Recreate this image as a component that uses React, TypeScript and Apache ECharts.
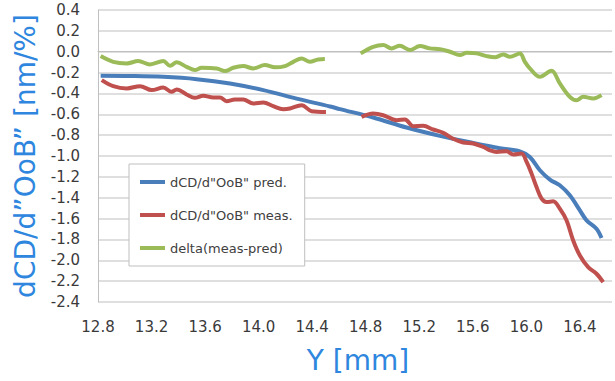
import React, { useEffect, useRef } from "react";
import * as echarts from "echarts";

const xTicks = [12.8, 13.2, 13.6, 14.0, 14.4, 14.8, 15.2, 15.6, 16.0, 16.4];
const yTicks = [0.4, 0.2, 0.0, -0.2, -0.4, -0.6, -0.8, -1.0, -1.2, -1.4, -1.6, -1.8, -2.0, -2.2, -2.4];

const seriesNames = ['dCD/d"OoB" pred.', 'dCD/d"OoB" meas.', "delta(meas-pred)"];

const xPred = [12.82, 13.039, 13.288, 13.537, 13.786, 14.035, 14.284, 14.533, 14.607, 14.856, 15.105, 15.354, 15.603, 15.802, 15.952, 16.026, 16.101, 16.176, 16.25, 16.325, 16.4, 16.45, 16.524, 16.562];
const yPred = [-0.231, -0.233, -0.241, -0.263, -0.304, -0.368, -0.45, -0.525, -0.55, -0.631, -0.727, -0.807, -0.875, -0.925, -0.955, -1.009, -1.137, -1.226, -1.281, -1.377, -1.521, -1.617, -1.697, -1.787];

const xMeas = [12.828, 12.914, 13.014, 13.114, 13.201, 13.288, 13.35, 13.388, 13.462, 13.524, 13.586, 13.661, 13.711, 13.761, 13.823, 13.885, 13.96, 14.035, 14.109, 14.184, 14.234, 14.321, 14.396, 14.503,
  14.63,
  14.769, 14.856, 14.931, 15.031, 15.093, 15.155, 15.229, 15.304, 15.379, 15.453, 15.528, 15.603, 15.678, 15.728, 15.778, 15.852, 15.902, 15.964, 16.002, 16.039, 16.076, 16.114, 16.151, 16.2, 16.25, 16.3, 16.35, 16.4, 16.462, 16.524, 16.574];
const yMeas = [-0.272, -0.33, -0.352, -0.33, -0.368, -0.343, -0.385, -0.362, -0.41, -0.442, -0.423, -0.439, -0.439, -0.474, -0.458, -0.458, -0.496, -0.487, -0.522, -0.551, -0.544, -0.513, -0.57, -0.577,
  null,
  -0.625, -0.592, -0.609, -0.657, -0.65, -0.714, -0.711, -0.746, -0.778, -0.835, -0.87, -0.88, -0.913, -0.945, -0.961, -0.954, -0.986, -0.977, -1.057, -1.169, -1.297, -1.409, -1.441, -1.435, -1.505, -1.617, -1.81, -1.954, -2.066, -2.129, -2.21];

const xDelta = [12.82, 12.914, 13.014, 13.101, 13.188, 13.288, 13.338, 13.388, 13.462, 13.524, 13.574, 13.686, 13.748, 13.81, 13.885, 13.96, 14.047, 14.122, 14.197, 14.259, 14.321, 14.383, 14.445, 14.495,
  14.63,
  14.762, 14.856, 14.931, 14.993, 15.055, 15.13, 15.205, 15.279, 15.354, 15.429, 15.504, 15.554, 15.628, 15.703, 15.765, 15.827, 15.877, 15.952, 15.989, 16.026, 16.101, 16.188, 16.25, 16.325, 16.375, 16.425, 16.5, 16.562];
const yDelta = [-0.042, -0.097, -0.112, -0.09, -0.122, -0.09, -0.135, -0.102, -0.145, -0.176, -0.154, -0.16, -0.186, -0.154, -0.138, -0.16, -0.128, -0.15, -0.138, -0.097, -0.064, -0.097, -0.074, -0.071,
  null,
  -0.016, 0.047, 0.064, 0.032, 0.057, 0.016, 0.054, 0.032, 0.025, 0.0, -0.032, -0.01, -0.016, -0.042, -0.054, -0.026, -0.049, -0.016, -0.097, -0.16, -0.241, -0.183, -0.304, -0.433, -0.465, -0.433, -0.448, -0.416];

const colors = ["#4A7EBB", "#C0504D", "#9BBB59"];

const pairs = (xs: number[], ys: (number | null)[]) => xs.map((x, i) => [x, ys[i]]);

export default function App() {
  const ref = useRef<HTMLDivElement>(null);
  useEffect(() => {
    if (!ref.current) return;
    const chart = echarts.init(ref.current, null, { renderer: "svg" });
    const xMin = xTicks[0];
    const xStep = xTicks[1] - xTicks[0];
    const yMin = yTicks[yTicks.length - 1];
    const yMax = yTicks[0];
    const mk = (name: string, data: any[], color: string) => ({
      name,
      type: "line",
      data,
      smooth: 0.35,
      showSymbol: false,
      symbol: "none",
      connectNulls: false,
      lineStyle: { color, width: 4 },
      itemStyle: { color },
    });
    chart.setOption({
      animation: false,
      textStyle: { fontFamily: "DejaVu Sans" },
      grid: { left: 98, right: 3, top: 10, bottom: 79 },
      legend: {
        orient: "vertical",
        left: 129,
        top: 164,
        padding: [10, 12, 10, 11],
        itemGap: 17,
        itemWidth: 25,
        itemHeight: 4,
        icon: "rect",
        backgroundColor: "#ffffff",
        borderColor: "#bfbfbf",
        borderWidth: 1,
        borderRadius: 0,
        textStyle: { fontFamily: "DejaVu Sans", fontSize: 13, color: "#404040", lineHeight: 16 },
        data: seriesNames,
      },
      xAxis: {
        type: "value",
        min: xMin,
        max: 16.64,
        interval: xStep,
        name: "Y [mm]",
        nameLocation: "middle",
        nameGap: 44,
        nameTextStyle: { fontFamily: "DejaVu Sans", fontSize: 28, color: "#2E86DE", padding: [0, 0, 0, 6] },
        axisLine: { show: true, lineStyle: { color: "#bfbfbf", width: 1 } },
        axisTick: { show: false },
        splitLine: { show: false },
        axisLabel: {
          margin: 17,
          fontFamily: "DejaVu Sans",
          fontSize: 15,
          color: "#3a3a3a",
          formatter: (v: number) => {
            const k = (v - xMin) / xStep;
            return Math.abs(k - Math.round(k)) < 1e-6 ? v.toFixed(1) : "";
          },
        },
      },
      yAxis: {
        type: "value",
        min: yMin,
        max: yMax,
        interval: 0.2,
        name: "dCD/d\u201dOoB\u201d [nm/%]",
        nameLocation: "middle",
        nameGap: 53,
        nameRotate: 90,
        nameTextStyle: { fontFamily: "DejaVu Sans", fontSize: 28, color: "#2E86DE" },
        axisLine: { show: true, lineStyle: { color: "#bfbfbf", width: 1 } },
        axisTick: { show: false },
        splitLine: { show: true, lineStyle: { color: "#d4d4d4", width: 1.5 } },
        axisLabel: {
          margin: 18,
          fontFamily: "DejaVu Sans",
          fontSize: 15,
          color: "#3a3a3a",
          formatter: (v: number) => (Math.abs(v) < 1e-9 ? "0.0" : v.toFixed(1)),
        },
      },
      series: [
        mk(seriesNames[0], pairs(xPred, yPred), colors[0]),
        mk(seriesNames[1], pairs(xMeas, yMeas), colors[1]),
        mk(seriesNames[2], pairs(xDelta, yDelta), colors[2]),
      ],
    });
    return () => chart.dispose();
  }, []);
  return (
    <div
      ref={ref}
      style={{ position: "fixed", left: 0, top: 0, width: 615, height: 381, background: "#ffffff" }}
    />
  );
}
